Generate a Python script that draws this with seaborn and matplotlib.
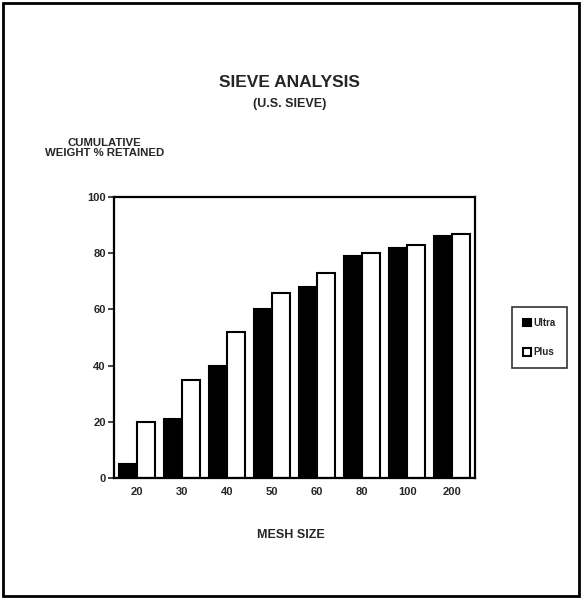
import matplotlib
matplotlib.use("Agg")
import matplotlib.pyplot as plt
import seaborn as sns
import pandas as pd
from matplotlib.patches import Rectangle

mesh = ["20", "30", "40", "50", "60", "80", "100", "200"]
ultra = [5, 21, 40, 60, 68, 79, 82, 86]
plus = [20, 35, 52, 66, 73, 80, 83, 87]
series = ["Ultra", "Plus"]

df = pd.DataFrame({
    "mesh": mesh * 2,
    "value": ultra + plus,
    "series": [series[0]] * len(mesh) + [series[1]] * len(mesh),
})

sns.set_style("white")
plt.rcParams["font.family"] = ["Liberation Sans", "DejaVu Sans"]

fig = plt.figure(figsize=(5.82, 5.99), dpi=100)
ax = fig.add_axes([0.196, 0.202, 0.62, 0.469])

sns.barplot(data=df, x="mesh", y="value", hue="series", order=mesh,
            hue_order=series, palette={"Ultra": "black", "Plus": "white"},
            edgecolor="black", linewidth=1.5, width=0.8, ax=ax, legend=True)

ax.set_ylim(0, 100)
ax.set_xlim(-0.5, 7.5)
ax.set_yticks([0, 20, 40, 60, 80, 100])
ax.set_yticklabels(["0", "20", "40", "60", "80", "100"], fontsize=8, fontweight="bold")
ax.set_xticks(range(len(mesh)))
ax.set_xticklabels(mesh, fontsize=8, fontweight="bold")
ax.tick_params(axis="y", which="both", left=True, length=4, width=1.2, direction="out", pad=2)
ax.tick_params(axis="x", bottom=False, pad=3)
ax.set_xlabel("")
ax.set_ylabel("")
for s in ax.spines.values():
    s.set_linewidth(1.6)
    s.set_color("black")

leg = ax.legend(loc="center left", bbox_to_anchor=(1.09, 0.5), fontsize=7,
                frameon=True, fancybox=False, edgecolor="black",
                handlelength=0.8, handleheight=0.8, handletextpad=0.3,
                labelspacing=2.0, borderpad=1.1)
for t in leg.get_texts():
    t.set_fontweight("bold")
leg.get_frame().set_linewidth(1.2)

fig.text(0.498, 0.863, "SIEVE ANALYSIS", ha="center", va="center",
         fontsize=12.5, fontweight="bold")
fig.text(0.498, 0.826, "(U.S. SIEVE)", ha="center", va="center",
         fontsize=9, fontweight="bold")
fig.text(0.18, 0.753, "CUMULATIVE\nWEIGHT % RETAINED", ha="center", va="center",
         fontsize=8.2, fontweight="bold", linespacing=1.1)
fig.text(0.5, 0.107, "MESH SIZE", ha="center", va="center",
         fontsize=9, fontweight="bold")

fig.patches.append(Rectangle((0.005, 0.005), 0.99, 0.99, transform=fig.transFigure,
                             fill=False, edgecolor="black", linewidth=2))

fig.savefig("out.png", dpi=100)
